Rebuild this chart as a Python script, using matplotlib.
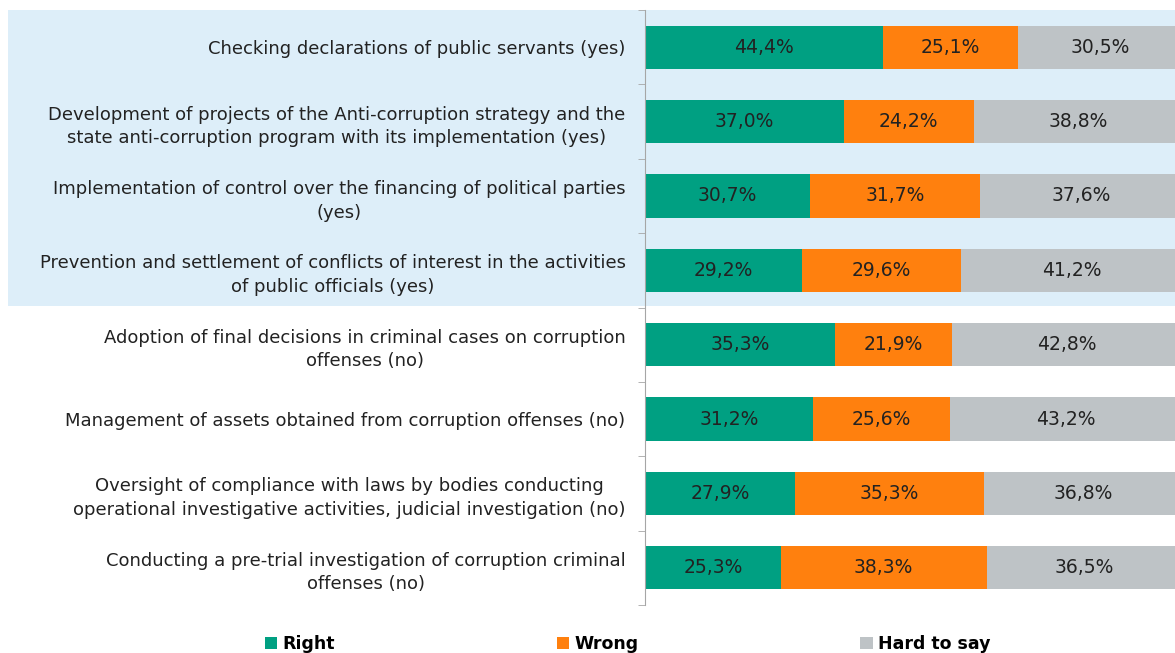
import matplotlib.pyplot as plt
from matplotlib.patches import Rectangle

categories = [
    "Checking declarations of public servants (yes)",
    "Development of projects of the Anti-corruption strategy and the\nstate anti-corruption program with its implementation (yes)",
    "Implementation of control over the financing of political parties\n(yes)",
    "Prevention and settlement of conflicts of interest in the activities\nof public officials (yes)",
    "Adoption of final decisions in criminal cases on corruption\noffenses (no)",
    "Management of assets obtained from corruption offenses (no)",
    "Oversight of compliance with laws by bodies conducting\noperational investigative activities, judicial investigation (no)",
    "Conducting a pre-trial investigation of corruption criminal\noffenses (no)",
]
right = [44.4, 37.0, 30.7, 29.2, 35.3, 31.2, 27.9, 25.3]
wrong = [25.1, 24.2, 31.7, 29.6, 21.9, 25.6, 35.3, 38.3]
hard = [30.5, 38.8, 37.6, 41.2, 42.8, 43.2, 36.8, 36.5]
series_names = ["Right", "Wrong", "Hard to say"]
colors = ["#00A082", "#FF800E", "#BEC3C6"]

W, H = 1175, 653
fig = plt.figure(figsize=(W / 100, H / 100), dpi=100)

# light blue band behind the "(yes)" rows
fig.patches.append(Rectangle((8 / W, 1 - 306 / H), 1 - 8 / W, (306 - 10) / H,
                             transform=fig.transFigure, facecolor="#DDEEF9",
                             edgecolor="none", zorder=0))

ax = fig.add_axes([645 / W, 1 - 605 / H, 1 - 645 / W, (605 - 10) / H])
ax.patch.set_alpha(0)
ax.set_zorder(2)

n = len(categories)
y = list(range(n))
left = [0.0] * n
for vals, name, col in zip([right, wrong, hard], series_names, colors):
    bars = ax.barh(y, vals, left=left, height=0.58, color=col, label=name,
                   edgecolor="none")
    for b, v in zip(bars, vals):
        ax.text(b.get_x() + b.get_width() / 2, b.get_y() + b.get_height() / 2,
                f"{v:.1f}%".replace(".", ","), ha="center", va="center",
                fontsize=13.5, color="#222222")
    left = [l + v for l, v in zip(left, vals)]

ax.set_xlim(0, 98.7)
ax.set_ylim(n - 0.5, -0.5)
ax.set_xticks([])
ax.set_yticks(y)
ax.set_yticklabels(categories, fontsize=13.0, color="#222222")
for t in ax.get_yticklabels():
    t.set_multialignment("center")
    t.set_linespacing(1.4)
ax.set_yticks([i - 0.5 for i in range(n + 1)], minor=True)
ax.tick_params(axis="y", which="major", length=0, pad=14)
ax.tick_params(axis="y", which="minor", length=5, color="#A6A6A6")
for s in ["top", "right", "bottom"]:
    ax.spines[s].set_visible(False)
ax.spines["left"].set_color("#A6A6A6")

leg = fig.legend(loc="lower center", bbox_to_anchor=(0.534, -0.024), ncol=3,
                 frameon=False, handlelength=0.7, handleheight=0.7,
                 handletextpad=0.3, columnspacing=12.8,
                 prop={"weight": "bold", "size": 12.5})

fig.savefig("out.png", dpi=100)
